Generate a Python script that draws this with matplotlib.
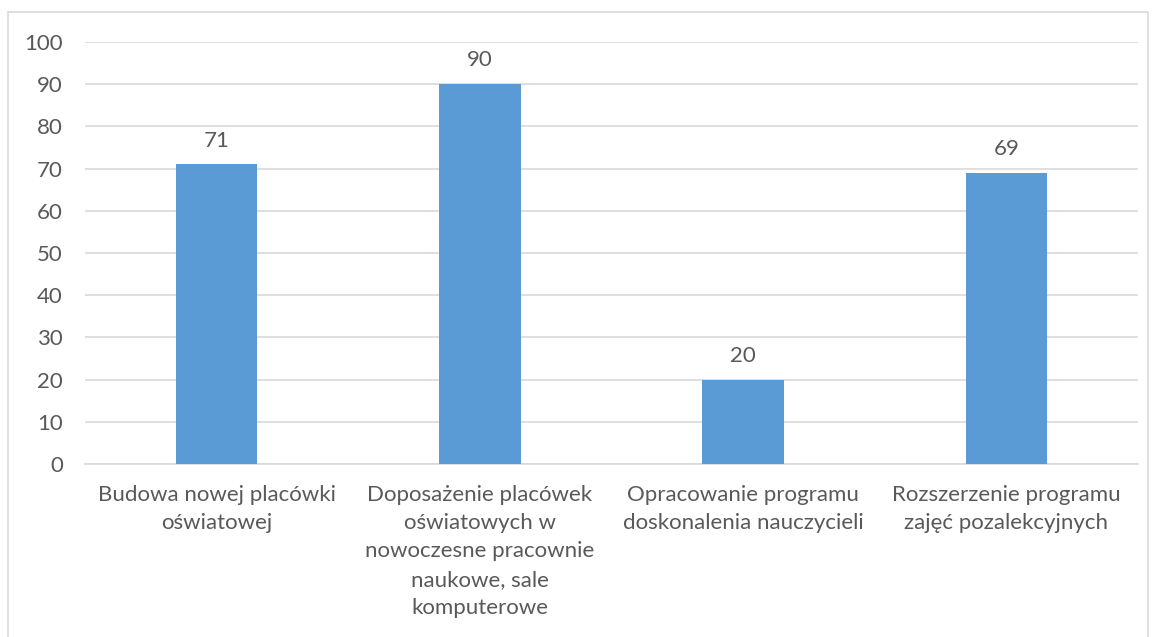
import matplotlib.pyplot as plt
from matplotlib.patches import Rectangle

# data
categories = [
    "Budowa nowej placówki\noświatowej",
    "Doposażenie placówek\noświatowych w\nnowoczesne pracownie\nnaukowe, sale\nkomputerowe",
    "Opracowanie programu\ndoskonalenia nauczycieli",
    "Rozszerzenie programu\nzajęć pozalekcyjnych",
]
values = [71, 90, 20, 69]
y_ticks = list(range(0, 101, 10))

text_color = "#595959"
grid_color = "#D9D9D9"
bar_color = "#5B9BD5"
fs = 16

plt.rcParams["font.family"] = ["Lato", "DejaVu Sans"]

fig = plt.figure(figsize=(11.55, 6.37), dpi=100)
ax = fig.add_axes([0.0736, 0.2716, 0.9117, 0.6624])

x = range(len(categories))
bars = ax.bar(x, values, width=0.31, color=bar_color, zorder=3)

for rect, v in zip(bars, values):
    ax.annotate(str(v), (rect.get_x() + rect.get_width() / 2, v),
                xytext=(0, 10), textcoords="offset points",
                ha="center", va="bottom", fontsize=fs, color=text_color)

ax.set_xlim(-0.5, len(categories) - 0.5)
ax.set_ylim(0, 100)
ax.set_yticks(y_ticks)
ax.set_xticks(list(x))
ax.set_xticklabels(categories, fontsize=fs, color=text_color, linespacing=1.52)
ax.tick_params(axis="y", length=0, pad=16, labelsize=fs, labelcolor=text_color)
ax.tick_params(axis="x", length=0, pad=15)

ax.grid(axis="y", color=grid_color, linewidth=1.2, zorder=0)
for side in ["top", "right", "left"]:
    ax.spines[side].set_visible(False)
ax.spines["bottom"].set_color(grid_color)
ax.spines["bottom"].set_linewidth(1.2)

# outer chart border
fig.patches.append(Rectangle((8 / 1155, -0.05), 1140 / 1155, 1 - 12 / 637 + 0.05,
                             transform=fig.transFigure, fill=False,
                             edgecolor=grid_color, linewidth=1.2))

fig.savefig("out.png", dpi=100)
